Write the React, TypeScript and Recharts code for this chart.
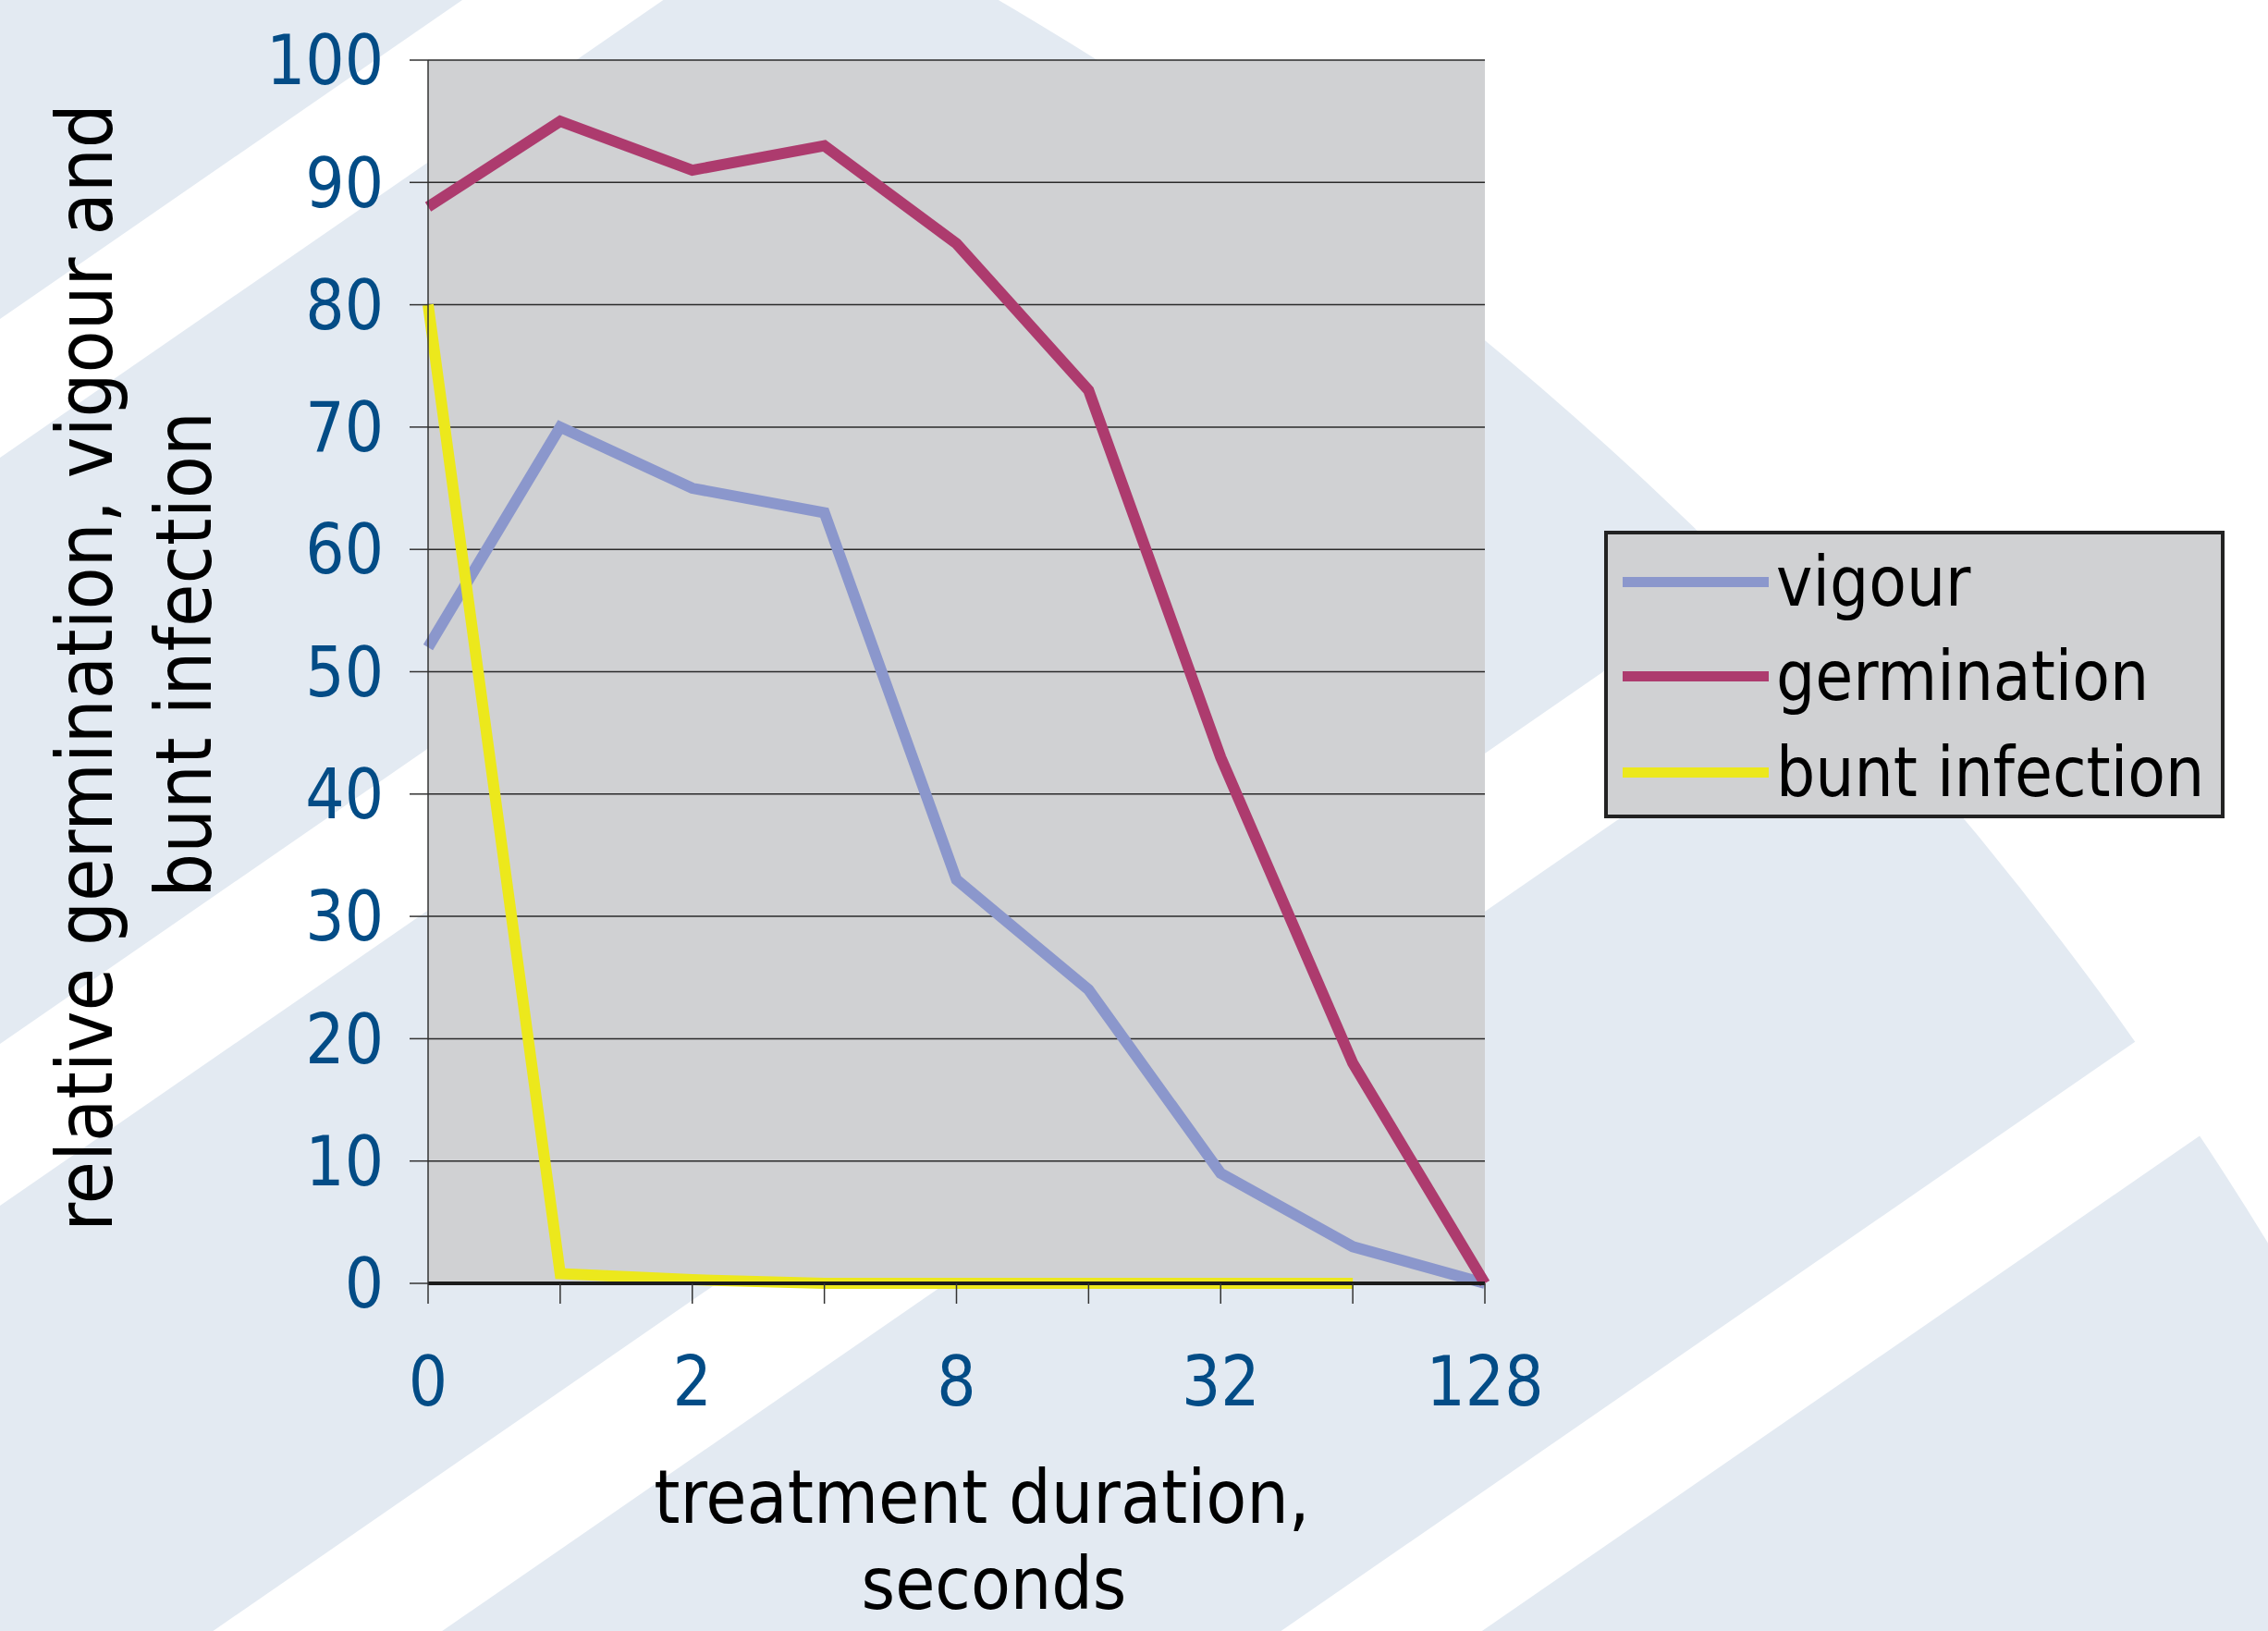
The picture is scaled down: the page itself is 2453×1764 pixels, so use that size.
import { CartesianGrid, Line, LineChart, XAxis, YAxis } from "recharts";

const durations = ["0", "1", "2", "4", "8", "16", "32", "64", "128"];
const labeledDurations = ["0", "2", "8", "32", "128"];
const vigour = [52, 70, 65, 63, 33, 24, 9, 3, 0];
const germination = [88, 95, 91, 93, 85, 73, 43, 18, 0];
const buntInfection = [80, 0.8, 0.3, 0, 0, 0, 0, 0, null];
const yTicks = [0, 10, 20, 30, 40, 50, 60, 70, 80, 90, 100];

const series = [
  { key: "vigour", name: "vigour", color: "#8b97cc" },
  { key: "germination", name: "germination", color: "#ad3b6e" },
  { key: "bunt", name: "bunt infection", color: "#ece81c" },
];

const rows = durations.map((d, i) => ({
  duration: d,
  vigour: vigour[i],
  germination: germination[i],
  bunt: buntInfection[i],
}));

const W = 2453;
const H = 1764;
const LIGHT = "#e3eaf2";
const TICK_BLUE = "#034c86";
const NARROW = "'DejaVu Sans Condensed', 'DejaVu Sans', sans-serif";

// background: a big pale disc with white diagonal bands
const SLOPE = 0.69;
const bands = [
  [345, 495],
  [1129, 1304],
  [1923, 2094],
  [2720, 2870],
];

function Backdrop() {
  return (
    <svg width={W} height={H} style={{ position: "absolute", left: 0, top: 0 }}>
      <rect width={W} height={H} fill="#ffffff" />
      <circle cx={-911} cy={3407} r={3946} fill={LIGHT} />
      {bands.map(([a, b], i) => (
        <polygon
          key={i}
          points={`0,${a} ${a / SLOPE},0 ${b / SLOPE},0 0,${b}`}
          fill="#ffffff"
        />
      ))}
    </svg>
  );
}

function Titles() {
  return (
    <svg
      width={W}
      height={H}
      style={{ position: "absolute", left: 0, top: 0, pointerEvents: "none" }}
    >
      <g fontFamily={NARROW} fill="#000" style={{ fontStretch: "condensed" }}>
        <text
          x={121}
          y={722}
          fontSize={84}
          textAnchor="middle"
          transform="rotate(-90 121 722)"
        >
          relative germination, vigour and
        </text>
        <text
          x={228}
          y={708}
          fontSize={84}
          textAnchor="middle"
          transform="rotate(-90 228 708)"
        >
          bunt infection
        </text>
        <text x={1062} y={1647} fontSize={80} textAnchor="middle">
          treatment duration,
        </text>
        <text x={1075} y={1740} fontSize={78} textAnchor="middle">
          seconds
        </text>
      </g>
    </svg>
  );
}

function LegendBox() {
  const rowsY = [629, 731, 835];
  return (
    <div
      style={{
        position: "absolute",
        left: 1735,
        top: 574,
        width: 671,
        height: 311,
        boxSizing: "border-box",
        border: "4px solid #222",
        background: "#d0d1d3",
      }}
    >
      {series.map((s, i) => (
        <div
          key={s.key}
          style={{
            position: "absolute",
            left: 16,
            top: rowsY[i] - 578 - 50,
            height: 100,
            display: "flex",
            alignItems: "center",
            whiteSpace: "nowrap",
          }}
        >
          <div style={{ width: 158, height: 11, background: s.color }} />
          <span
            style={{
              marginLeft: 8,
              fontFamily: NARROW,
              fontStretch: "condensed",
              fontSize: 74,
              lineHeight: 1,
              color: "#000",
            }}
          >
            {s.name}
          </span>
        </div>
      ))}
    </div>
  );
}

export default function App() {
  const tickStyle = {
    fill: TICK_BLUE,
    fontSize: 74,
    fontFamily: NARROW,
    style: { fontStretch: "condensed" },
  };

  return (
    <div style={{ position: "relative", width: W, height: H, overflow: "hidden" }}>
      <style>{`body{margin:0}`}</style>
      <Backdrop />
      <div style={{ position: "absolute", left: 0, top: 0 }}>
        <LineChart
          width={W}
          height={H}
          data={rows}
          margin={{ top: 65, right: 847, bottom: 0, left: 0 }}
        >
          <CartesianGrid
            vertical={false}
            fill="#d0d1d3"
            stroke="#2a2a2a"
            strokeWidth={1.5}
          />
          <XAxis
            dataKey="duration"
            interval={0}
            height={376}
            tickSize={22}
            tickMargin={57}
            tick={tickStyle}
            tickLine={{ stroke: "#333", strokeWidth: 1.5 }}
            axisLine={{ stroke: "#1c1c1c", strokeWidth: 4 }}
            tickFormatter={(v: string) => (labeledDurations.includes(v) ? v : "")}
          />
          <YAxis
            domain={[0, 100]}
            ticks={yTicks}
            width={463}
            tickSize={20}
            tickMargin={28}
            tick={tickStyle}
            tickLine={{ stroke: "#333", strokeWidth: 1.5 }}
            axisLine={{ stroke: "#333", strokeWidth: 1.5 }}
          />
          {series.map((s) => (
            <Line
              key={s.key}
              type="linear"
              dataKey={s.key}
              name={s.name}
              stroke={s.color}
              strokeWidth={12}
              dot={false}
              activeDot={false}
              connectNulls={false}
              isAnimationActive={false}
            />
          ))}
        </LineChart>
      </div>
      <Titles />
      <LegendBox />
    </div>
  );
}
